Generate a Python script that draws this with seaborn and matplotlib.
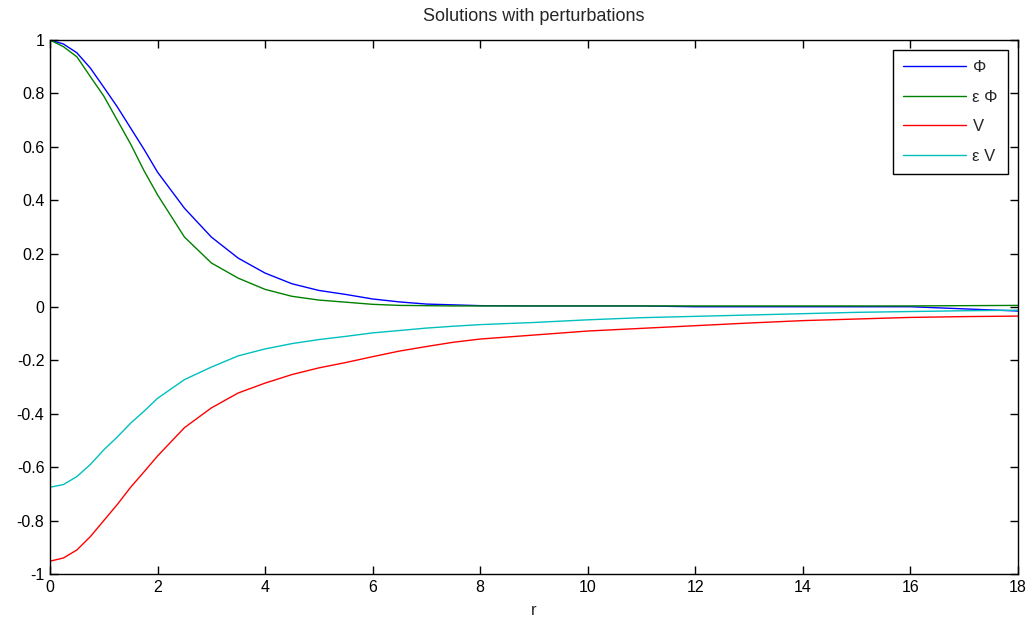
import matplotlib
matplotlib.use("Agg")
import matplotlib.pyplot as plt
import seaborn as sns
import pandas as pd

r = [0, 0.25, 0.5, 0.75, 1, 1.25, 1.5, 1.75, 2, 2.5, 3, 3.5, 4, 4.5, 5, 5.5,
     6, 6.5, 7, 7.5, 8, 9, 10, 11, 12, 13, 14, 15, 16, 17, 18]

phi = [1.0, 0.985, 0.952, 0.895, 0.823, 0.75, 0.67, 0.59, 0.505, 0.37, 0.262,
       0.183, 0.127, 0.087, 0.062, 0.047, 0.03, 0.019, 0.011, 0.008, 0.005,
       0.004, 0.004, 0.004, 0.001, 0.001, 0.001, 0.001, 0.001, -0.007, -0.015]

eps_phi = [1.0, 0.975, 0.937, 0.863, 0.79, 0.70, 0.61, 0.51, 0.42, 0.262,
           0.165, 0.108, 0.066, 0.04, 0.026, 0.018, 0.01, 0.006, 0.005, 0.004,
           0.004, 0.004, 0.004, 0.004, 0.004, 0.004, 0.004, 0.004, 0.004,
           0.005, 0.006]

v = [-0.952, -0.94, -0.91, -0.86, -0.80, -0.74, -0.675, -0.617, -0.558,
     -0.452, -0.378, -0.322, -0.285, -0.253, -0.228, -0.208, -0.186, -0.165,
     -0.148, -0.132, -0.12, -0.105, -0.09, -0.08, -0.07, -0.06, -0.051,
     -0.045, -0.039, -0.036, -0.034]

eps_v = [-0.675, -0.665, -0.635, -0.59, -0.535, -0.487, -0.435, -0.39, -0.342,
         -0.272, -0.225, -0.183, -0.157, -0.137, -0.122, -0.11, -0.097, -0.088,
         -0.079, -0.072, -0.066, -0.058, -0.048, -0.04, -0.035, -0.03, -0.025,
         -0.02, -0.017, -0.014, -0.012]

labels = ["\u03a6", "\u03b5 \u03a6", "V", "\u03b5 V"]
colors = ["#0000ff", "#008000", "#ff0000", "#00bfbf"]
series = [phi, eps_phi, v, eps_v]

sns.set_style("ticks")
plt.rcParams['font.family'] = ['Liberation Sans', 'DejaVu Sans']

fig = plt.figure(figsize=(10.32, 6.29), dpi=100)
ax = fig.add_axes([50/1032, 55/629, 968/1032, 534/629])

for vals, lab, col in zip(series, labels, colors):
    df = pd.DataFrame({"r": r, "y": vals})
    sns.lineplot(data=df, x="r", y="y", ax=ax, color=col, label=lab,
                 linewidth=1.0, errorbar=None)

ax.set_xlim(0, 18)
ax.set_ylim(-1, 1)
ax.set_xticks(range(0, 19, 2))
ax.set_xticklabels([str(t) for t in range(0, 19, 2)])
yt = [-1, -0.8, -0.6, -0.4, -0.2, 0, 0.2, 0.4, 0.6, 0.8, 1]
ax.set_yticks(yt)
ax.set_yticklabels(["-1", "-0.8", "-0.6", "-0.4", "-0.2", "0", "0.2", "0.4",
                    "0.6", "0.8", "1"])
ax.tick_params(direction="in", length=6, width=1, top=True, right=True,
               labelsize=11.5, colors="black", pad=4)
for s in ax.spines.values():
    s.set_visible(True)
    s.set_color("black")
    s.set_linewidth(1)

ax.set_xlabel("r", fontsize=12, labelpad=6)
ax.set_ylabel("")
ax.set_title("Solutions with perturbations", fontsize=13, pad=14)

leg = ax.legend(loc="upper right", fontsize=12, handlelength=3.8,
                frameon=True, fancybox=False, edgecolor="black",
                framealpha=1, borderaxespad=0.6, labelspacing=0.88,
                handletextpad=0.4, borderpad=0.6)
leg.get_frame().set_linewidth(1)

fig.savefig("out.png", dpi=100)
